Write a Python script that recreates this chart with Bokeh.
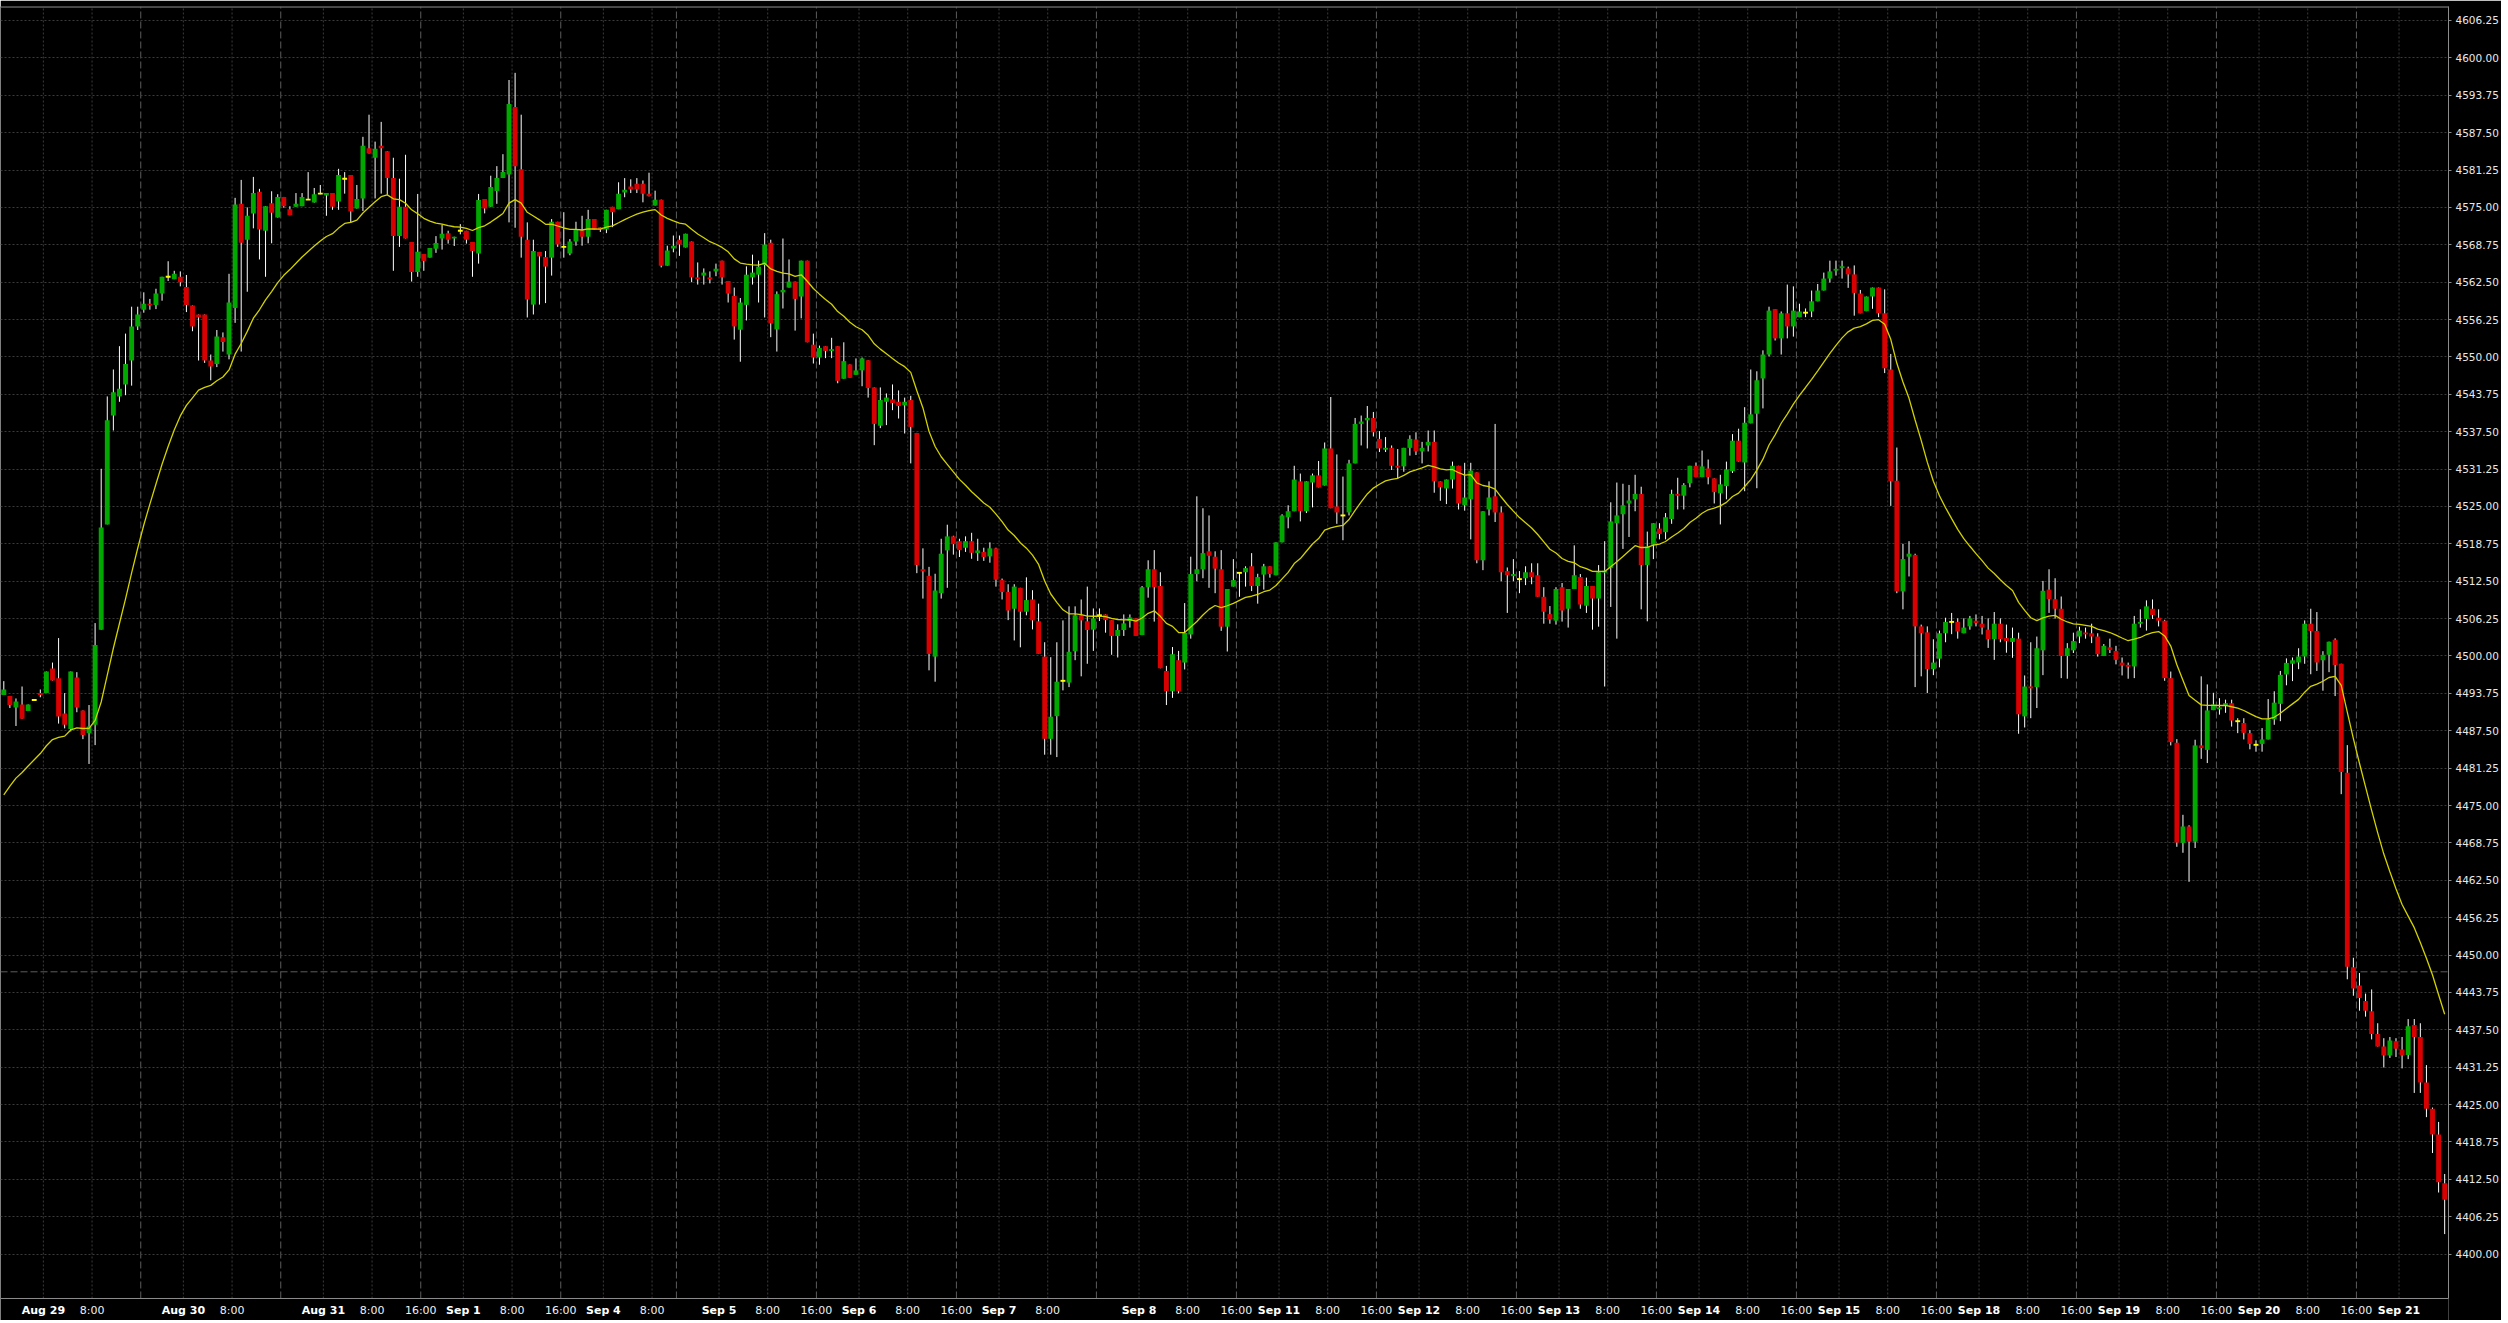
import numpy as np
from bokeh.plotting import figure
from bokeh.models import (Range1d, FixedTicker, Span, NumeralTickFormatter, ColumnDataSource)
from bokeh.core.properties import value
from bokeh.embed import file_html
from bokeh.resources import INLINE

# ---------------- data (hourly OHLC) ----------------
opens = [
 4493.5, 4493.3, 4491.4, 4491.9, 4490.8, 4492.65, 4493.8, 4493.8, 4497.9, 4496.3,
 4490.4, 4487.8, 4496.4, 4490.9, 4487.1, 4488.5, 4504.4, 4522.0, 4540.2, 4543.4,
 4545.4, 4549.4, 4555.1, 4557.9, 4558.9, 4558.7, 4560.6, 4563.4, 4563.0, 4563.4,
 4561.7, 4558.6, 4557.1, 4557.1, 4549.4, 4548.8, 4553.3, 4550.4, 4558.2, 4575.6,
 4569.6, 4574.0, 4577.6, 4571.1, 4575.7, 4573.3, 4576.75, 4574.7, 4575.1, 4575.2,
 4576.3, 4575.8, 4577.3, 4577.0, 4577.4, 4576.0, 4579.8, 4580.4, 4574.8, 4576.5,
 4584.9, 4583.3, 4585.3, 4584.4, 4579.9, 4570.2, 4575.1, 4569.2, 4564.2, 4567.2,
 4566.6, 4568.1, 4569.8, 4570.7, 4569.8, 4571.1, 4571.1, 4569.2, 4567.3, 4576.4,
 4575.1, 4577.75, 4579.9, 4580.5, 4591.8, 4581.4, 4569.6, 4558.75, 4567.55, 4566.7,
 4566.6, 4572.6, 4568.4, 4567.3, 4569.3, 4571.2, 4570.1, 4573.05, 4571.7, 4571.3,
 4575.1, 4574.7, 4577.5, 4578.5, 4578.96, 4578.96, 4577.3, 4575.3, 4576.3, 4565.25,
 4568.15, 4569.6, 4568.3, 4569.3, 4563.3, 4563.6, 4563.3, 4564.3, 4566.1, 4562.7,
 4560.2, 4554.55, 4558.7, 4563.3, 4563.75, 4565.4, 4569.1, 4554.6, 4560.8, 4561.6,
 4562.6, 4560.1, 4566.1, 4552.05, 4549.9, 4551.8, 4551.0, 4551.8, 4546.35, 4548.75,
 4547.0, 4547.75, 4549.45, 4544.9, 4538.5, 4542.5, 4542.9, 4542.5, 4541.9, 4542.8,
 4537.3, 4514.5, 4513.4, 4499.9, 4510.5, 4517.65, 4520.0, 4519.2, 4518.1, 4519.2,
 4517.2, 4517.4, 4516.65, 4518.0, 4512.7, 4510.7, 4507.9, 4511.4, 4507.4, 4509.45,
 4505.8, 4499.9, 4486.15, 4489.95, 4495.85, 4495.55, 4500.8, 4506.8, 4505.8, 4504.4,
 4506.8, 4506.95, 4506.0, 4503.35, 4504.35, 4505.85, 4506.3, 4503.5, 4511.5, 4514.5,
 4511.7, 4497.5, 4494.1, 4499.3, 4498.9, 4503.6, 4513.7, 4514.5, 4517.5, 4516.6,
 4514.5, 4504.9, 4511.6, 4513.9, 4514.0, 4515.0, 4511.7, 4513.6, 4515.0, 4513.5,
 4519.0, 4523.2, 4524.2, 4529.2, 4524.2, 4529.0, 4530.2, 4528.5, 4534.7, 4525.0,
 4523.5, 4524.0, 4532.2, 4538.8, 4539.4, 4539.8, 4536.3, 4534.5, 4534.8, 4531.8,
 4531.7, 4534.8, 4536.2, 4534.2, 4535.2, 4535.8, 4529.2, 4528.0, 4529.5, 4531.8,
 4525.2, 4526.2, 4530.7, 4516.0, 4524.5, 4526.7, 4524.0, 4514.2, 4513.35, 4512.85,
 4513.0, 4514.0, 4513.5, 4509.9, 4507.0, 4505.9, 4511.5, 4507.9, 4511.2, 4513.2,
 4508.4, 4511.7, 4509.6, 4514.0, 4514.7, 4522.2, 4523.7, 4525.5, 4526.2, 4527.1,
 4515.2, 4518.6, 4521.3, 4520.7, 4522.9, 4527.1, 4526.8, 4528.9, 4531.8, 4529.9,
 4531.35, 4529.7, 4527.2, 4528.4, 4530.9, 4536.0, 4532.35, 4538.9, 4540.5, 4546.4,
 4550.4, 4558.0, 4553.1, 4557.3, 4555.1, 4556.65, 4557.4, 4557.6, 4559.3, 4561.1,
 4563.1, 4564.45, 4564.9, 4564.8, 4563.8, 4560.6, 4557.65, 4560.1, 4561.6, 4557.3,
 4547.9, 4529.3, 4510.8, 4516.6, 4516.9, 4504.95, 4503.95, 4497.8, 4499.55, 4503.8,
 4505.7, 4505.7, 4503.8, 4504.95, 4505.9, 4505.4, 4504.4, 4502.8, 4505.4, 4503.0,
 4502.35, 4502.9, 4489.9, 4494.9, 4494.8, 4500.95, 4511.1, 4509.5, 4507.9, 4500.0,
 4500.95, 4503.25, 4503.9, 4503.8, 4503.25, 4500.0, 4501.45, 4500.85, 4498.9, 4498.45,
 4498.25, 4505.4, 4506.2, 4507.9, 4506.4, 4505.9, 4496.3, 4485.5, 4468.75, 4471.5,
 4468.95, 4485.05, 4484.3, 4490.95, 4491.1, 4491.8, 4492.1, 4489.1, 4488.8, 4487.1,
 4485.15, 4485.3, 4486.05, 4489.4, 4492.0, 4496.9, 4498.7, 4498.9, 4499.9, 4505.4,
 4504.2, 4499.3, 4500.2, 4502.7, 4498.7, 4480.5, 4447.95, 4444.9, 4442.3, 4440.6,
 4436.8, 4434.7, 4433.2, 4435.6, 4434.2, 4433.3, 4438.3, 4436.3, 4428.7, 4424.3,
 4420.0, 4411.85,
]
highs = [
 4495.8, 4493.3, 4492.9, 4494.9, 4491.9, 4492.65, 4494.4, 4497.4, 4498.9, 4503.0,
 4493.8, 4497.4, 4497.3, 4490.9, 4491.8, 4505.5, 4531.3, 4543.4, 4547.9, 4551.8,
 4553.9, 4558.4, 4558.4, 4560.8, 4559.7, 4561.4, 4563.4, 4566.0, 4564.4, 4564.3,
 4563.7, 4558.6, 4557.1, 4557.1, 4550.4, 4554.5, 4554.1, 4563.9, 4576.6, 4579.6,
 4575.0, 4580.1, 4578.1, 4575.2, 4577.7, 4577.2, 4576.75, 4575.2, 4577.4, 4577.4,
 4580.9, 4578.25, 4578.75, 4577.4, 4577.4, 4581.45, 4580.9, 4580.4, 4578.75, 4586.8,
 4590.5, 4586.0, 4589.3, 4584.4, 4583.3, 4579.8, 4583.8, 4569.2, 4577.25, 4567.2,
 4568.2, 4570.2, 4572.1, 4571.1, 4570.1, 4572.2, 4571.1, 4569.2, 4577.25, 4576.4,
 4580.3, 4581.9, 4583.9, 4596.3, 4597.5, 4590.5, 4572.5, 4569.6, 4567.55, 4567.7,
 4573.05, 4572.6, 4574.2, 4569.7, 4572.6, 4573.6, 4574.6, 4573.05, 4571.7, 4574.6,
 4575.1, 4579.2, 4579.9, 4579.7, 4579.9, 4579.5, 4580.8, 4577.8, 4576.3, 4568.6,
 4570.3, 4570.3, 4570.6, 4569.3, 4565.8, 4564.8, 4564.3, 4565.6, 4566.1, 4562.7,
 4561.6, 4559.85, 4565.15, 4567.1, 4566.1, 4570.7, 4569.6, 4560.95, 4569.8, 4566.3,
 4562.6, 4566.1, 4566.1, 4553.9, 4551.9, 4551.8, 4553.2, 4551.8, 4552.45, 4548.75,
 4549.75, 4549.9, 4549.45, 4544.9, 4544.9, 4543.9, 4545.4, 4544.4, 4543.2, 4543.5,
 4537.3, 4518.0, 4514.9, 4513.75, 4519.6, 4521.95, 4520.1, 4519.6, 4520.0, 4520.6,
 4519.6, 4518.1, 4519.0, 4518.1, 4512.95, 4512.0, 4512.0, 4511.4, 4513.15, 4511.0,
 4508.75, 4502.3, 4499.8, 4502.3, 4505.95, 4508.3, 4508.3, 4509.45, 4511.6, 4507.95,
 4507.95, 4506.95, 4506.0, 4505.3, 4506.95, 4506.95, 4506.3, 4511.7, 4516.0, 4517.7,
 4514.0, 4498.35, 4501.5, 4500.85, 4508.85, 4516.6, 4526.7, 4524.7, 4523.5, 4517.5,
 4517.7, 4511.2, 4516.2, 4513.9, 4515.0, 4517.2, 4513.75, 4515.4, 4515.0, 4519.0,
 4523.7, 4525.2, 4531.8, 4530.5, 4529.2, 4530.5, 4532.6, 4535.7, 4543.3, 4533.7,
 4530.0, 4532.8, 4539.8, 4540.2, 4541.8, 4540.8, 4537.6, 4536.6, 4535.2, 4534.6,
 4534.8, 4536.9, 4537.4, 4535.8, 4537.7, 4537.7, 4529.2, 4529.5, 4532.5, 4531.8,
 4532.3, 4532.3, 4530.7, 4524.2, 4529.2, 4538.8, 4525.0, 4514.8, 4516.2, 4514.2,
 4515.0, 4515.5, 4515.5, 4511.5, 4508.35, 4511.5, 4512.2, 4511.2, 4518.5, 4513.7,
 4513.1, 4511.7, 4515.2, 4519.2, 4525.7, 4529.0, 4528.8, 4528.6, 4530.3, 4528.3,
 4520.8, 4522.2, 4522.2, 4523.9, 4527.8, 4529.8, 4528.9, 4531.8, 4532.35, 4534.35,
 4532.85, 4529.7, 4530.3, 4532.5, 4537.1, 4538.0, 4541.6, 4547.9, 4547.6, 4551.1,
 4558.4, 4558.0, 4557.6, 4562.1, 4561.8, 4558.9, 4558.1, 4561.1, 4562.2, 4564.1,
 4566.1, 4566.1, 4566.1, 4565.1, 4565.3, 4561.2, 4560.1, 4561.6, 4561.6, 4561.3,
 4550.5, 4534.85, 4518.75, 4519.2, 4517.1, 4505.25, 4504.95, 4502.8, 4504.25, 4506.4,
 4507.2, 4506.3, 4506.3, 4506.7, 4506.95, 4506.7, 4506.3, 4507.35, 4506.3, 4505.25,
 4504.75, 4503.9, 4496.75, 4502.3, 4503.25, 4512.55, 4514.5, 4513.0, 4509.95, 4502.15,
 4503.9, 4504.9, 4504.75, 4505.4, 4503.8, 4502.0, 4502.9, 4501.7, 4499.75, 4498.9,
 4506.7, 4507.8, 4509.3, 4509.45, 4507.8, 4506.05, 4497.4, 4486.1, 4473.45, 4471.7,
 4486.0, 4496.6, 4495.25, 4493.85, 4492.95, 4492.7, 4492.7, 4489.6, 4489.6, 4487.6,
 4485.9, 4487.95, 4492.8, 4494.1, 4497.5, 4499.6, 4499.75, 4501.3, 4505.95, 4507.9,
 4507.35, 4500.8, 4502.4, 4502.95, 4498.7, 4485.1, 4449.55, 4447.0, 4443.55, 4444.25,
 4438.6, 4436.1, 4436.3, 4436.1, 4436.3, 4439.3, 4439.3, 4438.6, 4431.6, 4424.5,
 4422.1, 4413.4,
]
lows = [
 4493.5, 4491.3, 4488.3, 4489.5, 4490.8, 4492.65, 4493.1, 4493.8, 4495.9, 4488.7,
 4487.9, 4487.4, 4490.6, 4486.1, 4481.95, 4485.1, 4504.4, 4522.0, 4537.7, 4542.5,
 4543.6, 4545.2, 4554.5, 4557.4, 4557.9, 4558.0, 4559.4, 4562.7, 4563.0, 4561.8,
 4557.5, 4554.3, 4549.4, 4549.0, 4546.1, 4548.3, 4550.9, 4549.6, 4555.7, 4550.9,
 4560.9, 4571.5, 4566.3, 4563.4, 4569.0, 4573.3, 4574.95, 4573.7, 4575.1, 4575.2,
 4576.3, 4575.8, 4577.2, 4573.6, 4574.6, 4574.6, 4577.3, 4572.5, 4574.8, 4574.4,
 4584.0, 4576.5, 4577.3, 4577.1, 4564.4, 4568.4, 4569.8, 4562.6, 4563.4, 4564.4,
 4566.6, 4567.4, 4567.95, 4568.95, 4568.55, 4570.5, 4568.95, 4563.4, 4565.6, 4574.0,
 4575.1, 4575.6, 4579.9, 4572.5, 4571.6, 4566.6, 4556.6, 4557.1, 4558.75, 4559.0,
 4563.6, 4568.4, 4566.6, 4567.0, 4568.6, 4568.6, 4569.0, 4571.3, 4570.9, 4570.7,
 4571.7, 4574.7, 4576.7, 4577.4, 4577.4, 4575.85, 4576.85, 4575.3, 4564.97, 4565.25,
 4567.5, 4566.9, 4568.3, 4562.5, 4562.1, 4562.1, 4562.3, 4563.5, 4562.1, 4559.1,
 4552.9, 4549.2, 4556.1, 4562.1, 4559.1, 4556.6, 4553.3, 4550.9, 4558.1, 4561.6,
 4554.4, 4556.45, 4552.45, 4548.9, 4548.7, 4549.8, 4549.8, 4545.6, 4546.35, 4546.5,
 4547.0, 4545.1, 4543.2, 4535.25, 4538.1, 4538.6, 4541.1, 4539.7, 4537.2, 4532.2,
 4513.85, 4509.6, 4497.6, 4495.7, 4509.6, 4511.4, 4516.95, 4516.55, 4517.4, 4516.25,
 4515.9, 4515.9, 4515.6, 4511.6, 4509.45, 4506.0, 4502.6, 4501.45, 4506.8, 4504.45,
 4500.35, 4483.5, 4483.5, 4483.1, 4494.25, 4494.8, 4499.3, 4496.6, 4498.7, 4500.85,
 4505.85, 4503.9, 4500.2, 4499.75, 4503.35, 4504.75, 4503.35, 4503.5, 4509.75, 4505.75,
 4497.95, 4491.8, 4493.0, 4493.75, 4497.75, 4502.9, 4512.5, 4513.0, 4511.4, 4510.5,
 4504.2, 4500.75, 4511.6, 4509.9, 4511.6, 4510.85, 4508.75, 4511.1, 4513.1, 4513.5,
 4519.0, 4521.35, 4524.2, 4522.5, 4523.9, 4524.85, 4528.2, 4528.5, 4524.7, 4522.1,
 4519.35, 4523.5, 4532.2, 4535.2, 4534.7, 4536.7, 4534.1, 4534.1, 4531.1, 4529.6,
 4530.8, 4533.5, 4533.6, 4532.2, 4534.2, 4527.3, 4525.95, 4525.4, 4528.0, 4524.5,
 4524.3, 4519.5, 4515.5, 4514.35, 4523.5, 4522.4, 4512.5, 4507.2, 4512.5, 4510.5,
 4511.85, 4512.0, 4509.9, 4505.4, 4505.4, 4505.25, 4505.75, 4504.75, 4511.2, 4507.9,
 4507.2, 4504.4, 4504.9, 4494.9, 4508.2, 4502.9, 4517.9, 4519.9, 4524.2, 4507.8,
 4505.8, 4516.2, 4519.5, 4519.5, 4522.1, 4524.5, 4524.5, 4528.2, 4529.9, 4529.9,
 4528.7, 4525.5, 4522.0, 4526.2, 4530.6, 4532.5, 4527.55, 4538.9, 4528.05, 4541.4,
 4550.1, 4552.75, 4550.4, 4553.1, 4553.4, 4556.65, 4556.65, 4556.65, 4559.3, 4561.1,
 4562.45, 4563.6, 4563.1, 4561.55, 4556.9, 4557.3, 4557.65, 4558.05, 4556.65, 4547.3,
 4525.1, 4510.5, 4507.8, 4513.3, 4494.8, 4496.6, 4493.8, 4496.8, 4498.1, 4502.3,
 4503.65, 4502.9, 4503.8, 4504.4, 4504.95, 4503.6, 4501.35, 4499.35, 4502.3, 4500.55,
 4499.7, 4487.0, 4488.05, 4489.6, 4491.3, 4496.8, 4507.2, 4506.25, 4496.3, 4496.2,
 4500.5, 4502.15, 4502.9, 4502.15, 4499.9, 4500.0, 4500.5, 4498.6, 4496.75, 4496.2,
 4496.3, 4504.75, 4504.25, 4506.2, 4504.95, 4495.85, 4485.05, 4468.1, 4467.1, 4462.25,
 4467.9, 4482.8, 4482.1, 4490.95, 4490.2, 4490.5, 4488.2, 4487.1, 4486.05, 4484.4,
 4484.0, 4484.0, 4486.05, 4488.5, 4489.1, 4495.1, 4495.8, 4497.8, 4498.7, 4496.95,
 4497.5, 4494.2, 4497.3, 4493.3, 4476.9, 4445.95, 4443.2, 4440.7, 4439.7, 4435.9,
 4434.7, 4431.2, 4432.8, 4432.95, 4431.05, 4432.6, 4426.95, 4426.95, 4422.9, 4416.9,
 4410.3, 4403.35,
]
closes = [
 4494.4, 4491.8, 4492.4, 4489.5, 4491.9, 4492.65, 4493.5, 4497.4, 4495.9, 4489.9,
 4488.5, 4497.4, 4491.4, 4486.8, 4488.2, 4501.85, 4521.5, 4539.4, 4544.1, 4544.7,
 4548.8, 4555.1, 4557.1, 4558.9, 4558.6, 4560.6, 4563.4, 4563.4, 4563.9, 4562.5,
 4558.7, 4555.1, 4556.6, 4549.4, 4548.4, 4553.4, 4552.5, 4559.1, 4575.5, 4569.1,
 4573.6, 4577.4, 4571.3, 4575.2, 4574.1, 4576.75, 4575.2, 4573.7, 4575.6, 4576.75,
 4576.3, 4577.2, 4577.3, 4577.4, 4575.1, 4580.4, 4579.8, 4574.3, 4576.4, 4585.3,
 4584.0, 4584.8, 4584.9, 4579.9, 4570.2, 4575.1, 4569.8, 4564.2, 4567.6, 4566.05,
 4568.2, 4569.05, 4570.6, 4569.6, 4570.1, 4571.1, 4569.6, 4567.7, 4576.25, 4574.8,
 4578.4, 4579.9, 4580.9, 4592.3, 4581.9, 4570.1, 4559.6, 4567.7, 4566.8, 4565.1,
 4572.6, 4568.8, 4568.4, 4569.3, 4571.3, 4570.1, 4573.05, 4571.3, 4571.3, 4574.6,
 4574.2, 4577.3, 4577.96, 4578.0, 4578.0, 4577.3, 4576.85, 4576.3, 4565.25, 4567.8,
 4568.6, 4568.8, 4570.6, 4563.3, 4562.97, 4564.1, 4562.97, 4564.75, 4563.3, 4560.6,
 4555.1, 4559.1, 4563.75, 4564.1, 4565.1, 4568.8, 4555.6, 4560.5, 4561.2, 4562.6,
 4559.7, 4566.1, 4552.45, 4549.9, 4551.5, 4551.0, 4551.3, 4546.0, 4549.3, 4546.5,
 4547.75, 4549.75, 4544.8, 4538.8, 4542.8, 4543.2, 4542.3, 4541.8, 4542.5, 4538.3,
 4515.2, 4514.15, 4500.35, 4510.95, 4517.1, 4520.0, 4518.7, 4517.7, 4519.2, 4517.25,
 4517.65, 4516.55, 4518.0, 4512.75, 4510.7, 4507.6, 4511.6, 4507.4, 4509.35, 4505.95,
 4500.35, 4486.15, 4489.85, 4495.7, 4495.85, 4500.7, 4506.8, 4505.95, 4504.35, 4506.3,
 4506.8, 4506.0, 4503.35, 4504.35, 4505.45, 4506.45, 4503.35, 4511.5, 4514.5, 4511.5,
 4497.95, 4494.1, 4500.3, 4494.1, 4503.85, 4513.7, 4514.5, 4517.2, 4516.75, 4514.6,
 4504.9, 4511.2, 4512.7, 4513.9, 4514.7, 4511.7, 4513.2, 4515.0, 4513.7, 4519.0,
 4523.5, 4524.2, 4529.5, 4524.2, 4529.2, 4530.2, 4528.2, 4534.7, 4524.7, 4524.0,
 4523.5, 4532.2, 4538.8, 4539.2, 4539.8, 4537.4, 4534.7, 4534.8, 4531.8, 4531.5,
 4534.8, 4536.3, 4534.2, 4534.8, 4535.8, 4529.2, 4528.2, 4529.5, 4531.8, 4525.5,
 4526.5, 4531.0, 4516.0, 4524.2, 4526.5, 4524.0, 4514.0, 4513.5, 4513.7, 4512.85,
 4514.0, 4513.2, 4509.9, 4507.4, 4506.1, 4511.2, 4507.6, 4511.2, 4513.5, 4508.6,
 4511.7, 4509.6, 4514.0, 4514.2, 4522.5, 4523.5, 4525.2, 4526.0, 4527.1, 4515.2,
 4518.3, 4522.2, 4520.4, 4523.2, 4527.1, 4526.8, 4528.6, 4531.8, 4529.9, 4531.7,
 4529.9, 4527.4, 4528.7, 4531.2, 4536.0, 4532.5, 4539.0, 4540.4, 4546.1, 4550.4,
 4557.75, 4553.1, 4557.3, 4555.1, 4557.75, 4557.6, 4557.4, 4559.3, 4561.1, 4563.1,
 4564.3, 4564.7, 4565.1, 4563.8, 4560.7, 4557.3, 4560.1, 4561.6, 4557.3, 4548.1,
 4529.2, 4510.8, 4516.2, 4517.1, 4504.95, 4503.8, 4497.8, 4498.9, 4503.8, 4505.7,
 4505.7, 4504.1, 4504.75, 4506.3, 4505.5, 4504.75, 4502.8, 4505.4, 4502.8, 4502.5,
 4503.0, 4490.25, 4494.9, 4494.6, 4501.3, 4510.9, 4509.5, 4507.9, 4500.0, 4501.3,
 4502.5, 4504.25, 4503.65, 4503.25, 4500.3, 4501.7, 4501.0, 4499.35, 4498.4, 4498.25,
 4505.4, 4505.7, 4508.3, 4506.85, 4505.9, 4496.3, 4485.6, 4468.8, 4471.5, 4468.95,
 4485.05, 4484.6, 4490.9, 4491.9, 4491.4, 4492.1, 4489.2, 4489.1, 4487.15, 4485.3,
 4485.15, 4486.05, 4489.4, 4492.2, 4496.85, 4498.85, 4499.3, 4499.9, 4505.4, 4504.2,
 4498.9, 4500.2, 4502.4, 4498.5, 4480.6, 4448.05, 4444.4, 4442.8, 4440.7, 4436.8,
 4434.7, 4433.2, 4435.7, 4434.35, 4433.2, 4438.1, 4436.3, 4428.7, 4424.3, 4420.0,
 4412.0, 4409.1,
]

# moving average: 20-period EMA of closes; its value at the first bar
ma_period = 20
ma_first_value = 4476.8

# session structure of the hourly bars
day_names = ["Aug 29", "Aug 30", "Aug 31", "Sep 1", "Sep 4", "Sep 5", "Sep 6", "Sep 7",
             "Sep 8", "Sep 11", "Sep 12", "Sep 13", "Sep 14", "Sep 15", "Sep 18",
             "Sep 19", "Sep 20", "Sep 21"]
bars_before_first_day = 7
bars_per_day = [23, 23, 23, 23, 19, 23, 23, 23, 23, 23, 23, 23, 23, 23, 23, 23, 23, 8]
hour_labels = [["8:00"], ["8:00"], ["8:00", "16:00"], ["8:00", "16:00"], ["8:00"],
               ["8:00", "16:00"], ["8:00", "16:00"], ["8:00"], ["8:00", "16:00"],
               ["8:00", "16:00"], ["8:00", "16:00"], ["8:00", "16:00"], ["8:00", "16:00"],
               ["8:00", "16:00"], ["8:00", "16:00"], ["8:00", "16:00"], ["8:00", "16:00"], []]
hour_offsets = {"8:00": 8, "16:00": 16}
session_close_hour = [16, 16, 16, 16, 12, 16, 16, 16, 16, 16, 16, 16, 16, 16, 16, 16, 16, None]

# price axis
price_tick_step = 6.25
price_tick_first = 4400.0
price_tick_last = 4606.25
reference_level = 4447.2

# ---------------- derived ----------------
o = np.array(opens); h = np.array(highs); l = np.array(lows); c = np.array(closes)
n = len(c)
xs = np.arange(n)

alpha = 2.0 / (ma_period + 1)
ema = np.empty(n)
ema[0] = ma_first_value
for i in range(1, n):
    ema[i] = ema[i - 1] + alpha * (c[i] - ema[i - 1])

min_body = 0.32
btop = np.maximum(o, c)
bbot = np.minimum(o, c)
thin = (btop - bbot) < min_body
mid = (btop + bbot) / 2
btop = np.where(thin, mid + min_body / 2, btop)
bbot = np.where(thin, mid - min_body / 2, bbot)
colors = np.where(c > o, "#00a800", np.where(c < o, "#d80000", "#ffff00"))

src = ColumnDataSource(dict(x=xs, o=o, h=h, l=l, c=c, btop=btop, bbot=bbot, col=colors))

day_start = []
pos = bars_before_first_day
for cnt in bars_per_day:
    day_start.append(pos)
    pos += cnt

light_ticks, heavy_ticks, hour_pos, hour_txt = [], [], [], []
for d, labs, close_h in zip(day_start, hour_labels, session_close_hour):
    light_ticks.append(d - 0.5)
    if d + 8 < n - 1:
        light_ticks.append(d + 7.5)
    if close_h is not None:
        heavy_ticks.append(d + close_h - 0.5)
    for lab in labs:
        hour_pos.append(d + hour_offsets[lab] - 0.5)
        hour_txt.append(lab)
day_pos = [d - 0.5 for d in day_start]

n_ticks = int(round((price_tick_last - price_tick_first) / price_tick_step)) + 1
y_ticks = [price_tick_first + k * price_tick_step for k in range(n_ticks)]

# ---------------- figure ----------------
px_per_bar = 6.087
first_bar_px = 3.3
frame_w = 2448
x_lo = -first_bar_px / px_per_bar
x_hi = x_lo + frame_w / px_per_bar

px_per_point = 5.981
y_chart_lo = 4392.58      # price at the chart's bottom edge (x-axis line)
y_hi = 4608.59            # price at the chart's top edge
label_band_px = 22
y_lo = y_chart_lo - label_band_px / px_per_point
label_y = y_chart_lo - 12.4 / px_per_point

p = figure(frame_width=frame_w, frame_height=1292 + label_band_px,
           x_range=Range1d(x_lo, x_hi), y_range=Range1d(y_lo, y_hi),
           y_axis_location="right", output_backend="svg", toolbar_location=None,
           background_fill_color="#000000", border_fill_color="#000000",
           min_border_left=0, min_border_top=6, min_border_right=0, min_border_bottom=0)
p.outline_line_color = None
p.xaxis.visible = False
p.xgrid.visible = False

p.ygrid.ticker = FixedTicker(ticks=y_ticks)
p.ygrid.grid_line_color = "#3a3a3a"
p.ygrid.grid_line_dash = "2 2"

# vertical time grid (stops at the time axis line)
p.segment(x0=light_ticks, y0=[y_chart_lo] * len(light_ticks), x1=light_ticks,
          y1=[y_hi] * len(light_ticks), line_color="#3a3a3a", line_dash="2 2",
          line_width=1, level="underlay")
p.segment(x0=heavy_ticks, y0=[y_chart_lo] * len(heavy_ticks), x1=heavy_ticks,
          y1=[y_hi] * len(heavy_ticks), line_color="#5c5c5c", line_dash="7 3",
          line_width=1, level="underlay")
p.add_layout(Span(location=reference_level, dimension="width", line_color="#5c5c5c",
                  line_dash="7 3", line_width=1, level="underlay"))

# frame lines: time axis and top border
p.add_layout(Span(location=y_chart_lo, dimension="width", line_color="#8c8c8c", line_width=1))
p.add_layout(Span(location=y_hi - 0.12, dimension="width", line_color="#6a6a6a", line_width=1))

p.segment(x0="x", y0="l", x1="x", y1="h", source=src, line_color="#ffffff", line_width=1)
p.vbar(x="x", width=0.8, top="btop", bottom="bbot", source=src,
       fill_color="col", line_color=None)
p.line(xs, ema, line_color="#d2d200", line_width=1.3)

# time labels
p.text(x=hour_pos, y=[label_y] * len(hour_pos), text=hour_txt,
       text_font=value("DejaVu Sans"), text_font_size="11px", text_color="#f0f0f0",
       text_align="center", text_baseline="middle")
p.text(x=day_pos, y=[label_y] * len(day_pos), text=day_names,
       text_font=value("DejaVu Sans"), text_font_size="11px", text_font_style="bold",
       text_color="#ffffff", text_align="center", text_baseline="middle")

ya = p.yaxis[0]
ya.ticker = FixedTicker(ticks=y_ticks)
ya.formatter = NumeralTickFormatter(format="0.00")
ya.bounds = (y_chart_lo, y_hi)
ya.axis_line_color = "#8c8c8c"
ya.major_tick_line_color = "#8c8c8c"
ya.major_tick_out = 3
ya.major_tick_in = 0
ya.minor_tick_line_color = None
ya.major_label_standoff = 4
ya.major_label_text_color = "#e8e8e8"
ya.major_label_text_font = "DejaVu Sans"
ya.major_label_text_font_size = "10.5px"

open("out.html", "w").write(file_html(p, INLINE))
